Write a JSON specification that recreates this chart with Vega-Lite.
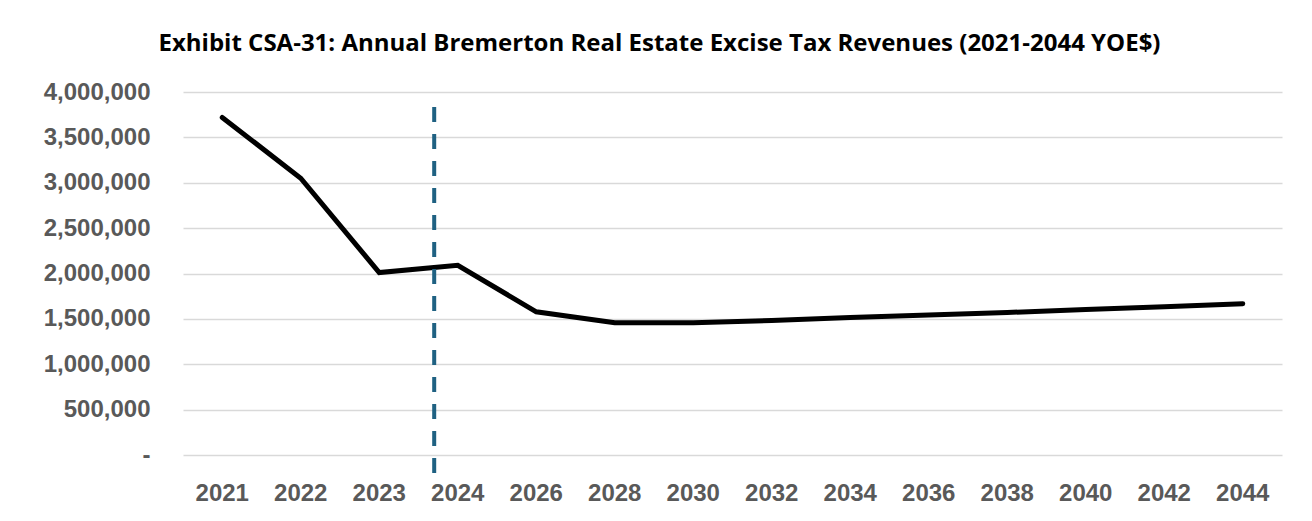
{
  "$schema": "https://vega.github.io/schema/vega-lite/v6.json",
  "width": 1099,
  "height": 363,
  "autosize": {"type": "none"},
  "padding": {"left": 183, "top": 92, "right": 30, "bottom": 66},
  "background": "white",
  "title": {
    "text": "Exhibit CSA-31: Annual Bremerton Real Estate Excise Tax Revenues (2021-2044 YOE$)",
    "anchor": "middle",
    "dx": -73,
    "offset": 5,
    "baseline": "alphabetic",
    "font": "Open Sans",
    "fontSize": 24,
    "fontWeight": "bold",
    "color": "black"
  },
  "config": {
    "view": {"stroke": null},
    "axis": {
      "labelFont": "Liberation Sans",
      "labelFontSize": 24,
      "labelFontWeight": "bold",
      "labelColor": "#595959",
      "domain": false,
      "ticks": false,
      "title": null
    }
  },
  "datasets": {
    "revenue": [
      {"year": "2021", "revenue": 3720000},
      {"year": "2022", "revenue": 3050000},
      {"year": "2023", "revenue": 2010000},
      {"year": "2024", "revenue": 2090000},
      {"year": "2026", "revenue": 1578000},
      {"year": "2028", "revenue": 1458000},
      {"year": "2030", "revenue": 1458000},
      {"year": "2032", "revenue": 1482000},
      {"year": "2034", "revenue": 1515000},
      {"year": "2036", "revenue": 1543000},
      {"year": "2038", "revenue": 1570000},
      {"year": "2040", "revenue": 1603000},
      {"year": "2042", "revenue": 1634000},
      {"year": "2044", "revenue": 1667000}
    ],
    "marker": [
      {"year": "2024", "top": 3835000, "bottom": -305000}
    ]
  },
  "layer": [
    {
      "data": {"name": "revenue"},
      "mark": {"type": "line", "color": "black", "strokeWidth": 5, "strokeCap": "round", "strokeJoin": "miter"},
      "encoding": {
        "x": {
          "field": "year",
          "type": "ordinal",
          "sort": null,
          "scale": {"type": "band", "paddingInner": 0, "paddingOuter": 0},
          "axis": {"labelAngle": 0, "labelPadding": 26, "grid": false}
        },
        "y": {
          "field": "revenue",
          "type": "quantitative",
          "scale": {"domain": [0, 4000000], "nice": false},
          "axis": {
            "values": [0, 500000, 1000000, 1500000, 2000000, 2500000, 3000000, 3500000, 4000000],
            "labelExpr": "datum.value == 0 ? '-\u00a0\u00a0' : format(datum.value, ',')",
            "labelPadding": 33,
            "grid": true,
            "gridColor": "#D9D9D9",
            "gridWidth": 1.5
          }
        }
      }
    },
    {
      "data": {"name": "marker"},
      "mark": {"type": "rule", "color": "#1F6182", "strokeWidth": 4, "strokeDash": [15, 12], "clip": false},
      "encoding": {
        "x": {"field": "year", "type": "ordinal", "bandPosition": 0.2},
        "y": {"field": "top", "type": "quantitative"},
        "y2": {"field": "bottom"}
      }
    }
  ]
}
